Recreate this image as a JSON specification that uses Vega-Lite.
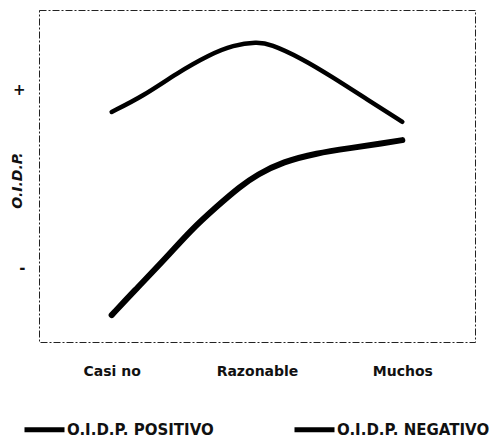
{
  "$schema": "https://vega.github.io/schema/vega-lite/v6.json",
  "width": 436,
  "height": 332,
  "autosize": {"type": "none"},
  "padding": {"left": 39, "top": 10, "right": 27, "bottom": 99},
  "background": "white",
  "config": {
    "view": {"stroke": "#222", "strokeWidth": 1, "strokeDash": [7, 2, 2, 2]},
    "font": "DejaVu Sans"
  },
  "data": {
    "values": [
      {"serie": "O.I.D.P. POSITIVO", "x": 0.0, "y": 69.3},
      {"serie": "O.I.D.P. POSITIVO", "x": 0.215, "y": 74.0},
      {"serie": "O.I.D.P. POSITIVO", "x": 0.449, "y": 81.0},
      {"serie": "O.I.D.P. POSITIVO", "x": 0.676, "y": 86.6},
      {"serie": "O.I.D.P. POSITIVO", "x": 0.835, "y": 89.4},
      {"serie": "O.I.D.P. POSITIVO", "x": 1.0, "y": 90.4},
      {"serie": "O.I.D.P. POSITIVO", "x": 1.09, "y": 89.8},
      {"serie": "O.I.D.P. POSITIVO", "x": 1.3, "y": 85.6},
      {"serie": "O.I.D.P. POSITIVO", "x": 1.52, "y": 79.8},
      {"serie": "O.I.D.P. POSITIVO", "x": 1.76, "y": 73.0},
      {"serie": "O.I.D.P. POSITIVO", "x": 2.0, "y": 66.3},
      {"serie": "O.I.D.P. NEGATIVO", "x": 0.0, "y": 8.1},
      {"serie": "O.I.D.P. NEGATIVO", "x": 0.147, "y": 15.0},
      {"serie": "O.I.D.P. NEGATIVO", "x": 0.38, "y": 25.6},
      {"serie": "O.I.D.P. NEGATIVO", "x": 0.54, "y": 33.5},
      {"serie": "O.I.D.P. NEGATIVO", "x": 0.725, "y": 40.9},
      {"serie": "O.I.D.P. NEGATIVO", "x": 0.883, "y": 46.8},
      {"serie": "O.I.D.P. NEGATIVO", "x": 1.0, "y": 50.4},
      {"serie": "O.I.D.P. NEGATIVO", "x": 1.18, "y": 54.3},
      {"serie": "O.I.D.P. NEGATIVO", "x": 1.41, "y": 56.9},
      {"serie": "O.I.D.P. NEGATIVO", "x": 1.64, "y": 58.4},
      {"serie": "O.I.D.P. NEGATIVO", "x": 1.87, "y": 59.9},
      {"serie": "O.I.D.P. NEGATIVO", "x": 2.0, "y": 60.8}
    ]
  },
  "encoding": {
    "x": {
      "field": "x",
      "type": "quantitative",
      "scale": {"domain": [-0.5, 2.5], "nice": false, "zero": false},
      "axis": {
        "values": [0, 1, 2],
        "labelExpr": "datum.value == 0 ? 'Casi no' : datum.value == 1 ? 'Razonable' : 'Muchos'",
        "title": null,
        "grid": false,
        "domain": false,
        "ticks": false,
        "labelPadding": 22,
        "labelFontSize": 14,
        "labelFontWeight": "bold",
        "labelColor": "#111",
        "labelFlush": false
      }
    },
    "y": {
      "field": "y",
      "type": "quantitative",
      "scale": {"domain": [0, 100], "nice": false},
      "axis": {
        "values": [22.3, 76.2],
        "labelExpr": "datum.value > 50 ? '+' : '-'",
        "title": "O.I.D.P.",
        "titleFontStyle": "italic",
        "titleFontWeight": "bold",
        "titleFontSize": 14,
        "titleColor": "#111",
        "titleX": -22,
        "titleY": 170,
        "titleAngle": -90,
        "titleBaseline": "middle",
        "titleAlign": "center",
        "grid": false,
        "domain": false,
        "ticks": false,
        "labelPadding": 14,
        "labelFontSize": 15,
        "labelFontWeight": "bold",
        "labelColor": "#111"
      }
    },
    "color": {
      "field": "serie",
      "type": "nominal",
      "scale": {"domain": ["O.I.D.P. POSITIVO", "O.I.D.P. NEGATIVO"], "range": ["#000", "#000"]},
      "legend": {
        "title": null,
        "orient": "none",
        "legendX": -17,
        "legendY": 397,
        "direction": "horizontal",
        "columns": 2,
        "columnPadding": 70,
        "symbolType": "stroke",
        "symbolSize": 1600,
        "symbolStrokeWidth": 5,
        "symbolStrokeColor": "#000",
        "labelFontSize": 15,
        "labelFontWeight": "bold",
        "labelColor": "#111",
        "labelOffset": 0
      }
    }
  },
  "layer": [
    {
      "transform": [{"filter": "datum.serie == 'O.I.D.P. POSITIVO'"}],
      "mark": {"type": "line", "interpolate": "basis", "strokeCap": "round", "strokeWidth": 4.5}
    },
    {
      "transform": [{"filter": "datum.serie == 'O.I.D.P. NEGATIVO'"}],
      "mark": {"type": "line", "interpolate": "basis", "strokeCap": "round", "strokeWidth": 6}
    }
  ]
}
